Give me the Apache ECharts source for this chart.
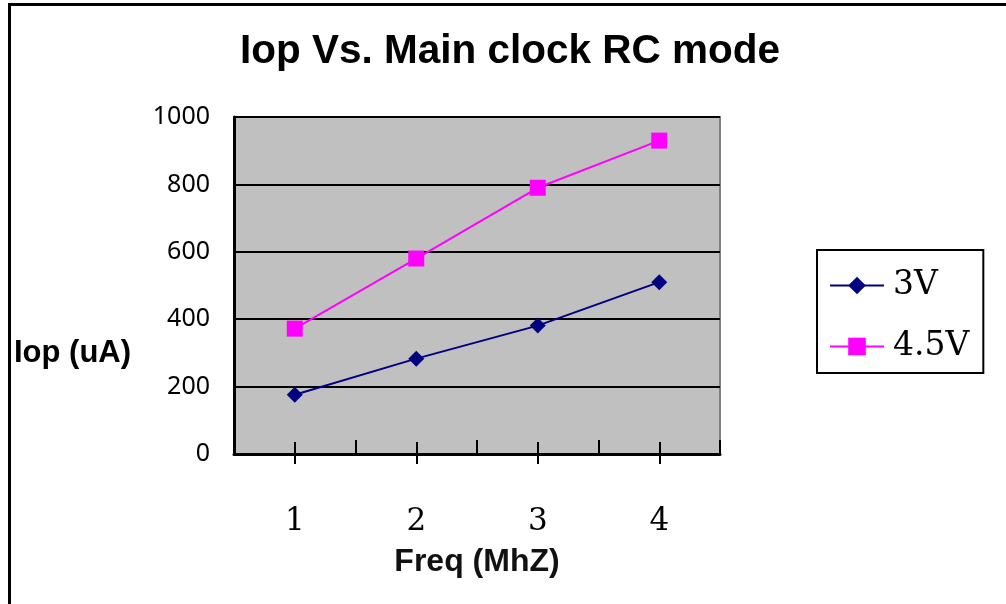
<!DOCTYPE html>
<html><head><meta charset="utf-8">
<script src="https://cdn.jsdelivr.net/npm/echarts@6/dist/echarts.min.js"></script>
<style>html,body{margin:0;padding:0;background:#fff}#c{width:1006px;height:604px}</style>
</head><body><div id="c"></div>
<script>
const categories = ['1', '2', '3', '4'];
const series3V = [176, 283, 381, 510];
const series45V = [372, 580, 790, 930];
const yTicks = [0, 200, 400, 600, 800, 1000];
const titleText = 'Iop Vs. Main clock RC mode';
const yName = 'Iop (uA)';
const xName = 'Freq (MhZ)';

const chart = echarts.init(document.getElementById('c'));
const serifFont = '"DejaVu Serif", "Liberation Serif", serif';
const boldSans = '"Liberation Sans", Arial, sans-serif';
const gridPos = {left: 234, top: 117, width: 486, height: 337};
const hiddenX = (extra) => Object.assign({
  type: 'category', data: categories, gridIndex: 0, position: 'bottom',
  axisLine: {show: false}, axisLabel: {show: false}, splitLine: {show: false}
}, extra);
chart.setOption({
  animation: false,
  backgroundColor: '#fff',
  graphic: [
    {type: 'text', x: 510, y: 52, style: {text: titleText, textAlign: 'center', textVerticalAlign: 'middle', font: 'bold 40.5px ' + boldSans, fill: '#000'}},
    {type: 'text', x: 14, y: 353, style: {text: yName, textAlign: 'left', textVerticalAlign: 'middle', font: 'bold 31px ' + boldSans, fill: '#000'}},
    {type: 'text', x: 477, y: 562, style: {text: xName, textAlign: 'center', textVerticalAlign: 'middle', font: 'bold 32px ' + boldSans, fill: '#111'}},
    {type: 'rect', shape: {x: 9.5, y: 4.5, width: 1200, height: 800}, style: {fill: 'none', stroke: '#000', lineWidth: 3}, z: 100}
  ],
  legend: {
    orient: 'vertical', left: 817, top: 250,
    padding: [19, 14, 10, 12], itemGap: 28,
    itemWidth: 54, itemHeight: 22,
    borderColor: '#000', borderWidth: 2,
    textStyle: {fontFamily: serifFont, fontSize: 33, color: '#000', padding: [0, 0, 0, 4]},
    data: ['3V', '4.5V']
  },
  grid: Object.assign({show: true, backgroundColor: '#C0C0C0', borderColor: '#808080', borderWidth: 2}, gridPos),
  xAxis: [
    {type: 'category', data: categories, boundaryGap: true,
     axisLine: {show: true, lineStyle: {color: '#000', width: 3}},
     axisTick: {show: true, inside: true, length: 14, lineStyle: {color: '#000', width: 2}},
     axisLabel: {margin: 52, fontFamily: serifFont, fontSize: 31, color: '#000'},
     splitLine: {show: false}},
    hiddenX({axisTick: {show: true, alignWithLabel: true, inside: true, length: 12, lineStyle: {color: '#000', width: 2}}}),
    hiddenX({axisTick: {show: true, alignWithLabel: true, inside: false, length: 10, lineStyle: {color: '#000', width: 2}}})
  ],
  yAxis: {
    type: 'value', min: 0, max: 1000, interval: 200,
    axisLine: {show: true, lineStyle: {color: '#000', width: 3}},
    axisTick: {show: true, inside: true, length: 10, lineStyle: {color: '#000', width: 2}},
    axisLabel: {margin: 24, fontFamily: '"Noto Sans", "DejaVu Sans", sans-serif', fontSize: 25, color: '#000',
      formatter: v => yTicks.includes(v) ? String(v) : ''},
    splitLine: {show: true, lineStyle: {color: '#000', width: 2}}
  },
  series: [
    {name: '3V', type: 'line', data: series3V, symbol: 'diamond', symbolSize: 16,
     itemStyle: {color: '#000080'}, lineStyle: {color: '#000080', width: 2}, z: 5},
    {name: '4.5V', type: 'line', data: series45V, symbol: 'rect', symbolSize: 16,
     itemStyle: {color: '#FF00FF'}, lineStyle: {color: '#FF00FF', width: 2}, z: 5}
  ]
});
</script></body></html>
